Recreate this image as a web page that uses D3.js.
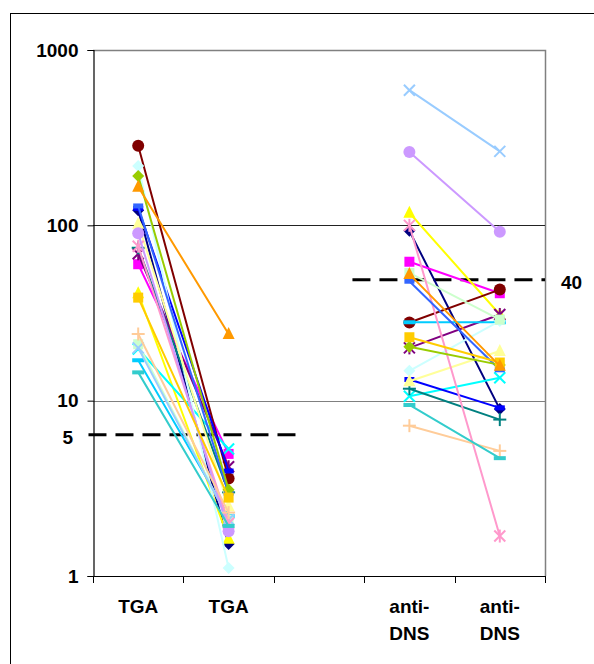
<!DOCTYPE html>
<html>
<head>
<meta charset="utf-8">
<script src="https://cdn.jsdelivr.net/npm/d3@7"></script>
<style>
  body { margin: 0; background: #fff; }
  svg { display: block; font-family: "Liberation Sans", Arial, sans-serif; }
</style>
</head>
<body>
<div id="chart"></div>
<script>
// ---- data ----
const categories = ['TGA', 'TGA', '', 'anti-DNS', 'anti-DNS']
const yTicks = [1, 10, 100, 1000]

// Excel default series colours / markers
const seriesColors = [
  '#000080', '#FF00FF', '#FFFF00', '#00FFFF', '#800080', '#800000', '#008080',
  '#0000FF', '#00CCFF', '#CCFFFF', '#CCFFCC', '#FFFF99', '#99CCFF', '#FF99CC',
  '#CC99FF', '#FFCC99', '#3366FF', '#33CCCC', '#99CC00', '#FFCC00', '#FF9900'
]
const seriesMarkers = [
  'diamond', 'square', 'triangle', 'x', 'star', 'circle', 'plus', 'dash', 'longdash',
  'diamond', 'square', 'triangle', 'x', 'star', 'circle', 'plus', 'dash', 'longdash',
  'diamond', 'square', 'triangle'
]
// values per category index: TGA, TGA, (blank), anti-DNS, anti-DNS
const tgaBefore = [122, 60, 41, 19.7, 68.8, 284, 74.5, 125, 17, 218, 21, 102, 20, 76, 90, 24, 129, 14.5, 191, 38.7, 166]
const tgaAfter  = [1.52, 4.97, 1.63, 5.3, 4.2, 3.6, 3.0, 3.97, 2.2, 1.11, 2.1, 2.5, 2.1, 2.0, 1.8, 2.3, 2.97, 1.93, 3.1, 2.8, 24]
const dnsBefore = [93, 62, 118, 10.6, 20, 27.9, 11.7, 13.2, 28, 14.8, 53.5, 12.9, 590, 100, 262, 7.2, 48, 9.45, 20.3, 23, 52.7]
const dnsAfter  = [8.95, 41, 31, 13.5, 31, 43, 7.8, 9.1, 28, 28.5, 29, 19.2, 264, 1.69, 92, 5.17, 15, 4.7, 16, 16.5, 15.8]

// dashed reference lines: label, value where drawn, start/end in category units
const refLines = [
  { label: '5', value: 6.4, from: -0.05, to: 2.3, side: 'left' },
  { label: '40', value: 49, from: 2.87, to: 5, side: 'right' }
]

// ---- layout ----
const W = 594, H = 664
const plot = { left: 93, right: 545, top: 50, bottom: 576 }
const font = '"Liberation Sans", Arial, sans-serif'

const svg = d3.select('#chart').append('svg')
  .attr('width', W).attr('height', H)

// outer frame
svg.append('rect')
  .attr('x', 10.5).attr('y', 13.5)
  .attr('width', W + 20).attr('height', H + 20)
  .attr('fill', 'none').attr('stroke', '#000').attr('stroke-width', 1)

const x = d3.scaleBand()
  .domain(d3.range(categories.length))
  .range([plot.left, plot.right])
  .padding(0)

const y = d3.scaleLog()
  .domain([1, 1000])
  .range([plot.bottom, plot.top])

const cx = i => x(i) + x.bandwidth() / 2
// fractional category position for reference lines
const xf = f => plot.left + f * x.step()

// plot frame (top/right grey)
svg.append('path')
  .attr('d', `M${plot.left},${plot.top + 0.5}H${plot.right + 0.5}V${plot.bottom}`)
  .attr('fill', 'none').attr('stroke', '#808080').attr('stroke-width', 1.5)

// gridlines
svg.append('g').selectAll('line')
  .data([10, 100])
  .join('line')
  .attr('x1', plot.left).attr('x2', plot.right)
  .attr('y1', d => Math.round(y(d)) + 0.5).attr('y2', d => Math.round(y(d)) + 0.5)
  .attr('stroke', d => d === 100 ? '#222' : '#808080').attr('stroke-width', 1)

// y axis
svg.append('g')
  .attr('transform', `translate(${plot.left + 0.5},0)`)
  .call(d3.axisLeft(y).tickValues(yTicks).tickFormat(d3.format('d')).tickSize(6).tickPadding(9))
  .call(g => {
    g.select('.domain').attr('stroke', '#000').attr('stroke-width', 1.2)
    g.selectAll('.tick line').attr('stroke', '#000')
    g.selectAll('.tick text')
      .attr('fill', '#000').attr('font-size', '19px').attr('font-weight', 'bold')
      .attr('font-family', font)
  })

// x axis: line + boundary ticks
const xAxis = svg.append('g')
xAxis.append('line')
  .attr('x1', plot.left).attr('x2', plot.right + 1)
  .attr('y1', plot.bottom + 0.5).attr('y2', plot.bottom + 0.5)
  .attr('stroke', '#000').attr('stroke-width', 1.2)
xAxis.selectAll('.bound')
  .data(d3.range(categories.length + 1))
  .join('line')
  .attr('class', 'bound')
  .attr('x1', i => Math.round(xf(i)) + 0.5).attr('x2', i => Math.round(xf(i)) + 0.5)
  .attr('y1', plot.bottom).attr('y2', plot.bottom + 7)
  .attr('stroke', '#000').attr('stroke-width', 1)

const catLabels = xAxis.selectAll('.cat')
  .data(categories.map((c, i) => ({ c, i })).filter(d => d.c))
  .join('text')
  .attr('class', 'cat')
  .attr('text-anchor', 'middle')
  .attr('font-size', '19px').attr('font-weight', 'bold')
  .attr('font-family', font)
  .attr('fill', '#000')
catLabels.each(function (d) {
  const parts = d.c.includes('-') ? [d.c.split('-')[0] + '-', d.c.split('-')[1]] : [d.c]
  d3.select(this).selectAll('tspan')
    .data(parts)
    .join('tspan')
    .attr('x', cx(d.i))
    .attr('y', (p, k) => 613 + k * 27)
    .text(p => p)
})

// dashed reference lines
refLines.forEach(r => {
  svg.append('line')
    .attr('x1', xf(r.from))
    .attr('x2', xf(r.to))
    .attr('y1', y(r.value)).attr('y2', y(r.value))
    .attr('stroke', '#000').attr('stroke-width', 3)
    .attr('stroke-dasharray', '18,9')
  svg.append('text')
    .attr('x', r.side === 'left' ? 73 : 561)
    .attr('y', y(r.value) + 9)
    .attr('text-anchor', r.side === 'left' ? 'end' : 'start')
    .attr('font-size', '19px').attr('font-weight', 'bold')
    .attr('font-family', font)
    .text(r.label)
})

// ---- series ----
const series = seriesColors.map((color, s) => ({
  color,
  marker: seriesMarkers[s],
  values: [tgaBefore[s], tgaAfter[s], null, dnsBefore[s], dnsAfter[s]]
}))

const line = d3.line()
  .defined(d => d.v != null)
  .x(d => cx(d.i))
  .y(d => y(d.v))

function markerPath(type) {
  const r = 6
  switch (type) {
    case 'diamond': return `M0,${-r}L${r},0L0,${r}L${-r},0Z`
    case 'square': return `M-5,-5h10v10h-10Z`
    case 'triangle': return `M0,${-r - 1}L${r},${r - 1}L${-r},${r - 1}Z`
    case 'circle': return `M${r},0A${r},${r} 0 1,1 ${-r},0A${r},${r} 0 1,1 ${r},0Z`
    case 'dash': return `M-5,-2.5h10v5h-10Z`
    case 'longdash': return `M-6,-2h12v4h-12Z`
    default: return null
  }
}

const gSeries = svg.append('g')
series.forEach(s => {
  const pts = s.values.map((v, i) => ({ v, i }))
  const g = gSeries.append('g')
  g.append('path')
    .attr('d', line(pts))
    .attr('fill', 'none').attr('stroke', s.color).attr('stroke-width', 2)
  const marks = g.selectAll('g.m')
    .data(pts.filter(d => d.v != null))
    .join('g')
    .attr('class', 'm')
    .attr('transform', d => `translate(${cx(d.i)},${y(d.v)})`)
  const p = markerPath(s.marker)
  if (p) {
    marks.append('path').attr('d', p).attr('fill', s.color)
  } else {
    const r = 5.5
    const segs = []
    if (s.marker === 'x' || s.marker === 'star') segs.push([-r, -r, r, r], [-r, r, r, -r])
    if (s.marker === 'plus') segs.push([-r - 1, 0, r + 1, 0], [0, -r - 1, 0, r + 1])
    if (s.marker === 'star') segs.push([0, -r - 1, 0, r + 1])
    segs.forEach(sg => {
      marks.append('line')
        .attr('x1', sg[0]).attr('y1', sg[1]).attr('x2', sg[2]).attr('y2', sg[3])
        .attr('stroke', s.color).attr('stroke-width', 2)
    })
  }
})
</script>
</body>
</html>
